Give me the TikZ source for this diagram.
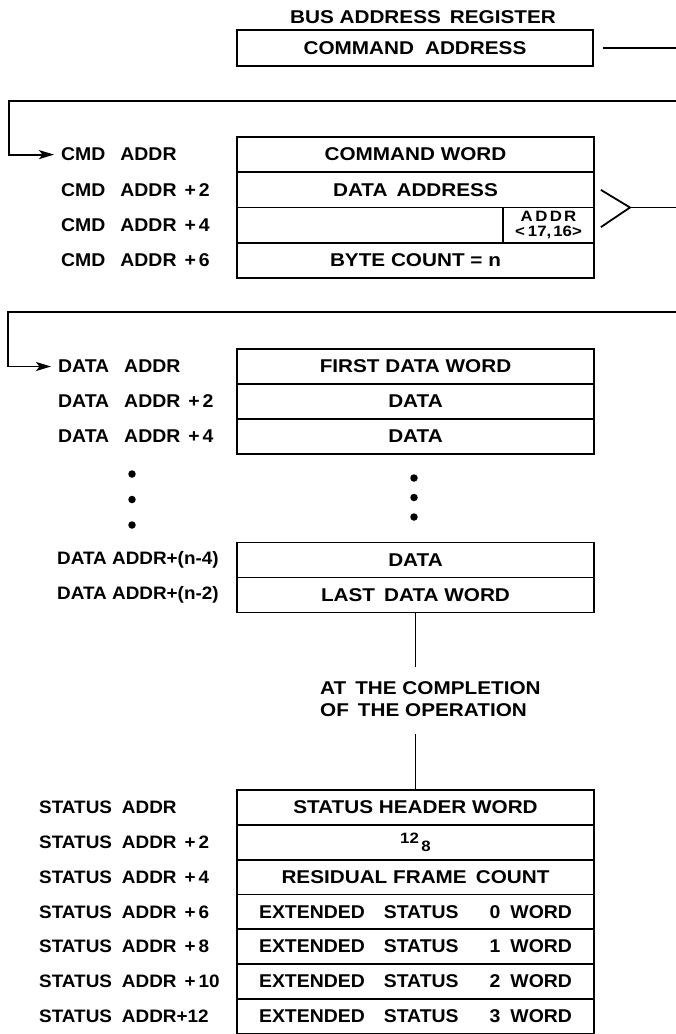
\documentclass[tikz,border=0pt]{standalone}
\usepackage{fontspec}
\setmainfont[FakeStretch=1.05,UprightFont=*-Bold]{Liberation Sans}
\newfontfamily\widefam[FakeStretch=1.12,UprightFont=*-Bold]{Liberation Sans}
\usetikzlibrary{arrows.meta}
\newcommand\dfont{\widefam\fontsize{18.5}{22}\selectfont}
\newcommand\lfont{\fontsize{18.5}{22}\selectfont}
\newcommand\stfont{\fontsize{18}{22}\selectfont}
\newcommand\sfont{\widefam\fontsize{15}{15}\selectfont}
\newcommand\gapw{\hspace{15pt}}
\newcommand\plus[1]{\hspace{8pt}+\hspace{3pt}#1}
\newcommand\ext[1]{EXTENDED\hspace{19pt}STATUS\hspace{31pt}#1\hspace{10pt}WORD\hspace{30pt}}
\begin{document}
\begin{tikzpicture}[x=1pt,y=-1pt,
  cell/.style={draw, line width=1.8pt, minimum width=357pt, minimum height=35.25pt, inner sep=0pt, font=\dfont},
  dcell/.style={cell, minimum height=35pt},
  scell/.style={cell, minimum height=34.8pt},
  lbl/.style={anchor=west, inner sep=0pt, font=\lfont},
  slbl/.style={anchor=west, inner sep=0pt, font=\stfont},
  wire/.style={line width=1.8pt},
  arr/.style={wire, -{Stealth[length=15pt,width=9pt,inset=3.5pt]}, shorten >=7pt},
  dot/.style={circle, fill, inner sep=0pt, minimum size=7.5pt}]
\useasboundingbox (0,0) rectangle (676,1034);

% bus address register
\node[font=\dfont, inner sep=0pt] (title) at (423,17) {BUS ADDRESS\hspace{9pt}REGISTER};
\node[cell, minimum width=356pt, minimum height=36pt] (bar) at (415,48) {COMMAND\hspace{11pt}ADDRESS};
\coordinate (wrapA) at (676,48);
\draw[wire] ([xshift=9pt]bar.east) -- (wrapA);

% command block
\node[cell] (c0) at (415.5,154.6) {COMMAND WORD};
\node[cell] (c1) at (415.5,189.9) {DATA\hspace{9pt}ADDRESS};
\node[cell] (c2) at (415.5,225.1) {};
\node[cell] (c3) at (415.5,260.4) {BYTE COUNT = n};
\node[draw, line width=1.8pt, minimum width=91pt, minimum height=35.25pt, inner sep=0pt, font=\sfont, align=center] (hi) at (548.5,225.1) {A\kern2.5pt D\kern2.5pt D\kern2pt R\\<\hspace{3pt}17,\hspace{2pt}16>};

\node[lbl] (l0) at (61,154.6) {CMD\gapw ADDR};
\node[lbl] (l1) at (61,189.9) {CMD\gapw ADDR\plus{2}};
\node[lbl] (l2) at (61,225.1) {CMD\gapw ADDR\plus{4}};
\node[lbl] (l3) at (61,260.4) {CMD\gapw ADDR\plus{6}};

\coordinate (wrapB) at (676,101);
\coordinate (bendB) at (9,101);
\draw[arr] (wrapB) -- (bendB) |- (l0.west);

% bracket
\coordinate (tip) at (630,207.5);
\coordinate (wrapC) at (676,207.5);
\draw[wire] ([xshift=6pt]c1.east) -- (tip) -- ([xshift=6pt,yshift=-2pt]c2.east);
\draw[wire] (tip) -- (wrapC);

% data block
\node[dcell] (d0) at (415.5,366.5) {FIRST DATA WORD};
\node[dcell] (d1) at (415.5,401.5) {DATA};
\node[dcell] (d2) at (415.5,436.5) {DATA};
\node[dcell] (d3) at (415.5,560) {DATA};
\node[dcell] (d4) at (415.5,595) {LAST\hspace{9pt}DATA WORD};

\node[lbl] (m0) at (58,366.5) {DATA\gapw ADDR};
\node[lbl] (m1) at (58,401.5) {DATA\gapw ADDR\plus{2}};
\node[lbl] (m2) at (58,436.5) {DATA\gapw ADDR\plus{4}};
\node[slbl] (m3) at (57,560) {DATA ADDR+(n-4)};
\node[slbl] (m4) at (57,595) {DATA ADDR+(n-2)};

\coordinate (wrapD) at (676,312);
\coordinate (bendD) at (8,312);
\draw[arr] (wrapD) -- (bendD) |- (m0.west);

\node[dot] (ld1) at (132,474) {};
\node[dot] (ld2) at (132,499.5) {};
\node[dot] (ld3) at (132,525) {};
\node[dot] (rd1) at (414,478) {};
\node[dot] (rd2) at (414,497.5) {};
\node[dot] (rd3) at (414,517) {};

% completion note
\node[anchor=west, font=\dfont, align=left, inner sep=0pt] (note) at (320,699.5) {AT\hspace{9pt}THE COMPLETION\\OF\hspace{9pt}THE OPERATION};
\draw[wire] (d4.south) -- ++(0,54);

% status block
\node[scell] (s0) at (415.5,807.4) {STATUS HEADER WORD};
\node[scell] (s1) at (415.5,842.2) {\fontsize{15}{16}\selectfont\raisebox{5pt}{12}\,\raisebox{-3pt}{8}};
\node[scell] (s2) at (415.5,877.0) {RESIDUAL FRAME\hspace{9pt}COUNT};
\node[scell, font=\lfont] (s3) at (415.5,911.8) {\ext{0}};
\node[scell, font=\lfont] (s4) at (415.5,946.6) {\ext{1}};
\node[scell, font=\lfont] (s5) at (415.5,981.4) {\ext{2}};
\node[scell, font=\lfont] (s6) at (415.5,1016.2) {\ext{3}};
\draw[wire] (s0.north) -- ++(0,-55);

\node[slbl] (t0) at (39,807.4) {STATUS\hspace{10pt}ADDR};
\node[slbl] (t1) at (39,842.2) {STATUS\hspace{10pt}ADDR\plus{2}};
\node[slbl] (t2) at (39,877.0) {STATUS\hspace{10pt}ADDR\plus{4}};
\node[slbl] (t3) at (39,911.8) {STATUS\hspace{10pt}ADDR\plus{6}};
\node[slbl] (t4) at (39,946.6) {STATUS\hspace{10pt}ADDR\plus{8}};
\node[slbl] (t5) at (39,981.4) {STATUS\hspace{10pt}ADDR\plus{10}};
\node[slbl] (t6) at (39,1016.2) {STATUS\hspace{10pt}ADDR+12};
\end{tikzpicture}
\end{document}
